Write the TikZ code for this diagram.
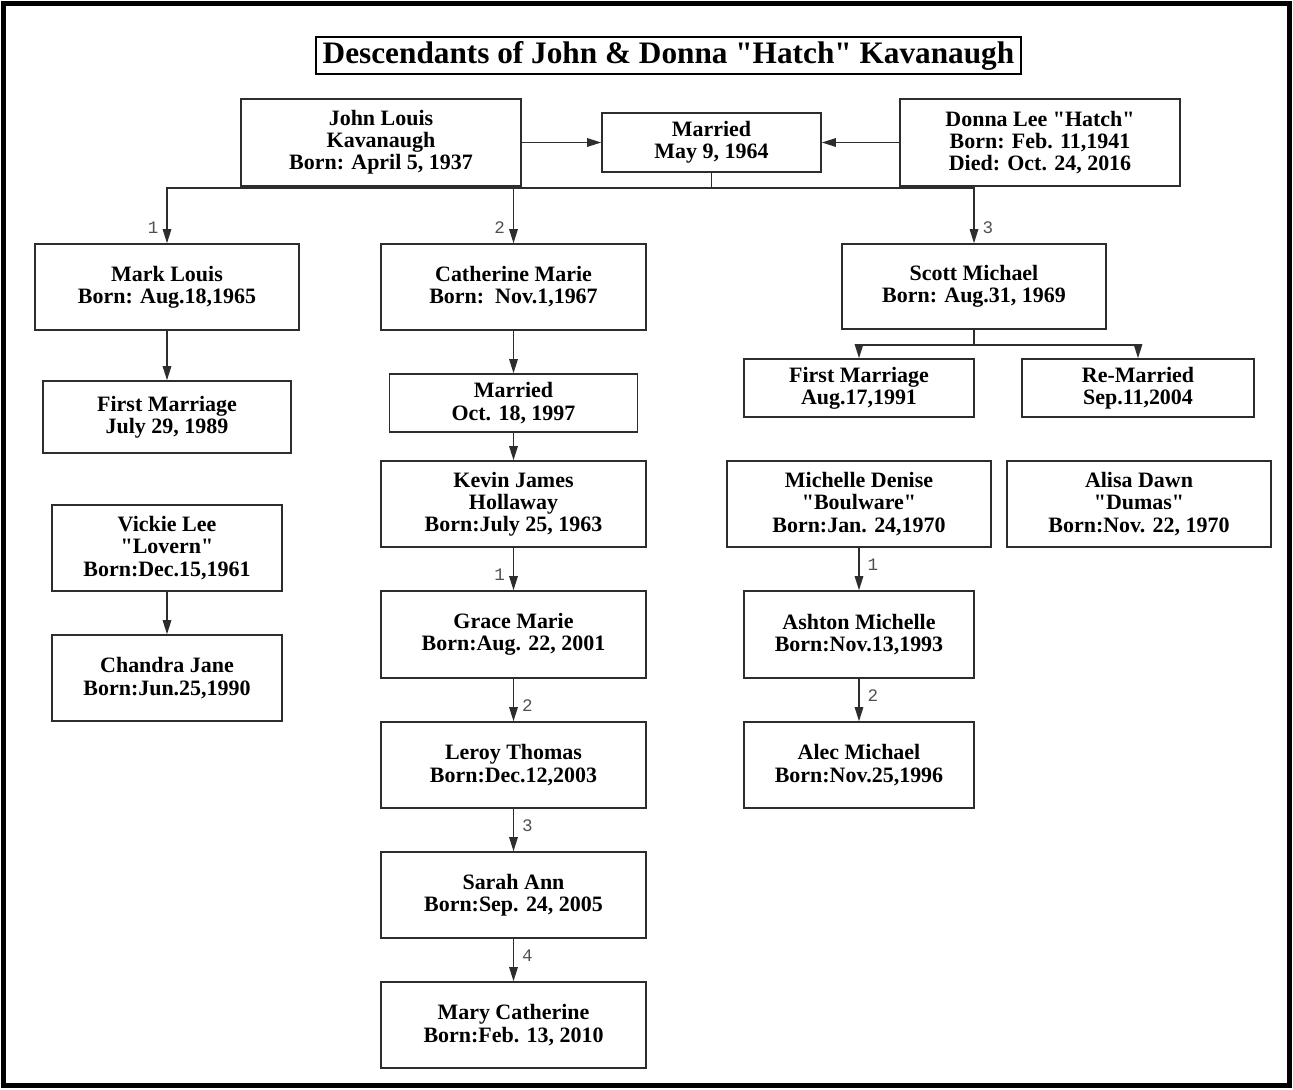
\documentclass[tikz,border=0pt]{standalone}
\usepackage{fontspec}
\setmainfont{Liberation Serif}[Ligatures=TeXOff]
\newfontfamily\monoFont{Liberation Mono}
\usetikzlibrary{arrows.meta}
\definecolor{lineColor}{RGB}{45,45,45}
\definecolor{labelColor}{RGB}{80,80,80}
\newcommand{\unitLength}{0.02cm}
\tikzstyle{chart} = [x = \unitLength, y = -\unitLength]
\tikzstyle{personBox} = [draw=lineColor, line width=0.9pt, fill=white, inner sep=0pt, align=center, font=\fontsize{12.5}{12.6}\selectfont\bfseries]
\tikzstyle{titleBox} = [draw=black, line width=1.6pt, inner sep=0pt, font=\fontsize{17.8}{20}\selectfont\bfseries]
\tikzstyle{treeLine} = [color=lineColor, line width=0.75pt]
\tikzstyle{treeArrow} = [treeLine, -{Triangle[length=2.8mm, width=1.7mm]}]
\tikzstyle{childNumber} = [font=\monoFont\fontsize{10}{10}\selectfont, text=labelColor, inner sep=4.5pt]
\newcommand{\familyBox}[6]{\node [personBox, minimum width = #4 * \unitLength, minimum height = #5 * \unitLength] (#1) at (#2, #3) {#6};}

\begin{document}
\begin{tikzpicture}[chart]
            \useasboundingbox (0,0) rectangle (1293,1089);
            \draw [line width=1mm] (3.5,3.5) rectangle (1289,1085.5);
            \node [titleBox, minimum width = 705 * \unitLength, minimum height = 37 * \unitLength] (title) at (668.5, 55.5) {Descendants of John \& Donna "Hatch" Kavanaugh};

            \familyBox{john}{381}{142.5}{280}{87}{John Louis\\Kavanaugh\\Born: April 5, 1937}
            \familyBox{married}{711.5}{142.5}{219}{59}{Married\\May 9, 1964}
            \familyBox{donna}{1040}{142.5}{280}{87}{Donna Lee "Hatch"\\Born: Feb. 11,1941\\Died: Oct. 24, 2016}

            \familyBox{mark}{167}{287}{264}{86}{Mark Louis\\Born: Aug.18,1965}
            \familyBox{catherine}{513.5}{287}{265}{86}{Catherine Marie\\Born:\ \ Nov.1,1967}
            \familyBox{scott}{974}{286.5}{264}{85}{Scott Michael\\Born: Aug.31, 1969}

            \familyBox{markMarriage}{167}{417}{248}{72}{First Marriage\\July 29, 1989}
            \familyBox{vickie}{167}{548}{230}{86}{Vickie Lee\\"Lovern"\\Born:Dec.15,1961}
            \familyBox{chandra}{167}{678}{230}{86}{Chandra Jane\\Born:Jun.25,1990}

            \familyBox{cathMarried}{513.5}{403}{248}{58}{Married\\Oct. 18, 1997}
            \familyBox{kevin}{513.5}{504}{265}{86}{Kevin James\\Hollaway\\Born:July 25, 1963}
            \familyBox{grace}{513.5}{634.5}{265}{87}{Grace Marie\\Born:Aug. 22, 2001}
            \familyBox{leroy}{513.5}{765}{265}{86}{Leroy Thomas\\Born:Dec.12,2003}
            \familyBox{sarah}{513.5}{895}{265}{86}{Sarah Ann\\Born:Sep. 24, 2005}
            \familyBox{mary}{513.5}{1025}{265}{86}{Mary Catherine\\Born:Feb. 13, 2010}

            \familyBox{scottMarriage}{859}{388}{230}{58}{First Marriage\\Aug.17,1991}
            \familyBox{scottRemarried}{1138}{388}{232}{58}{Re-Married\\Sep.11,2004}
            \familyBox{michelle}{859}{504}{264}{86}{Michelle Denise\\"Boulware"\\Born:Jan. 24,1970}
            \familyBox{alisa}{1139}{504}{264}{86}{Alisa Dawn\\"Dumas"\\Born:Nov. 22, 1970}
            \familyBox{ashton}{859}{634.5}{230}{87}{Ashton Michelle\\Born:Nov.13,1993}
            \familyBox{alec}{859}{765}{230}{86}{Alec Michael\\Born:Nov.25,1996}

            \draw [treeArrow] (john) -- (married);
            \draw [treeArrow] (donna) -- (married);
            \coordinate (parentsBus) at (711.5, 188);
            \draw [treeLine] (married) -- (parentsBus);
            \draw [treeArrow] (parentsBus) -| node [childNumber, left, pos=0.86] {1} (mark);
            \draw [treeArrow] (parentsBus) -| node [childNumber, left, pos=0.86] {2} (catherine);
            \draw [treeArrow] (parentsBus) -| node [childNumber, right, pos=0.86] {3} (scott);

            \draw [treeArrow] (mark) -- (markMarriage);
            \draw [treeArrow] (vickie) -- (chandra);

            \draw [treeArrow] (catherine) -- (cathMarried);
            \draw [treeArrow] (cathMarried) -- (kevin);
            \draw [treeArrow] (kevin) -- node [childNumber, left, pos=0.64] {1} (grace);
            \draw [treeArrow] (grace) -- node [childNumber, right, pos=0.64] {2} (leroy);
            \draw [treeArrow] (leroy) -- node [childNumber, right, pos=0.39] {3} (sarah);
            \draw [treeArrow] (sarah) -- node [childNumber, right, pos=0.41] {4} (mary);

            \coordinate (scottBus) at (974, 345);
            \draw [treeLine] (scott) -- (scottBus);
            \draw [treeArrow] (scottBus) -| (scottMarriage);
            \draw [treeArrow] (scottBus) -| (scottRemarried);
            \draw [treeArrow] (michelle) -- node [childNumber, right, pos=0.41] {1} (ashton);
            \draw [treeArrow] (ashton) -- node [childNumber, right, pos=0.39] {2} (alec);
          \end{tikzpicture}
\end{document}
